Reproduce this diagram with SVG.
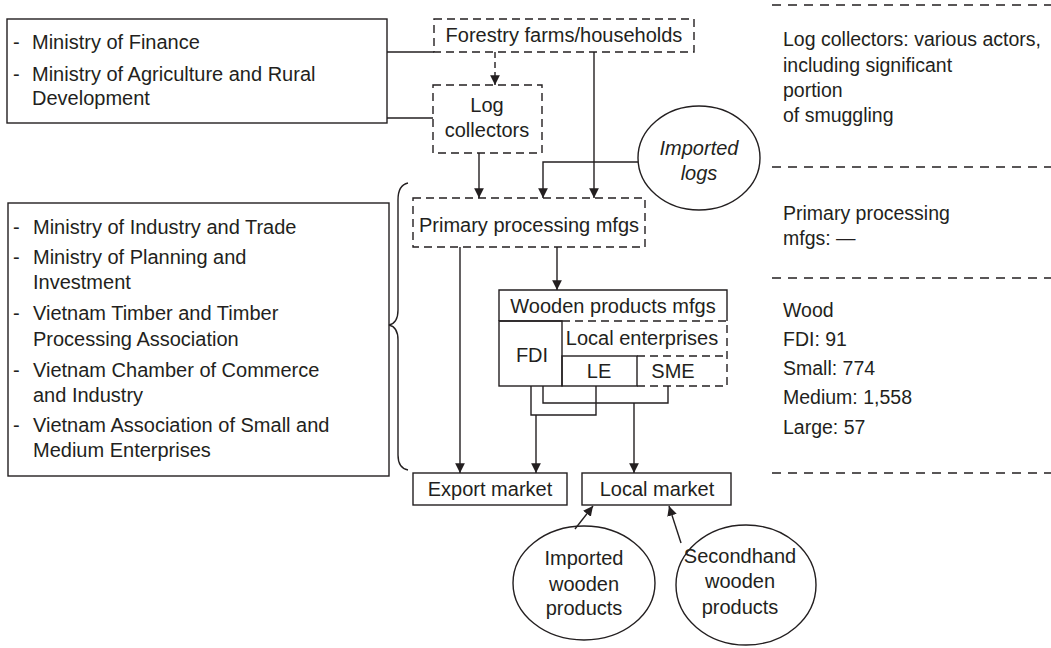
<svg xmlns="http://www.w3.org/2000/svg" width="1051" height="648" viewBox="0 0 1051 648">
<defs>
<style>
.t{font-family:"Liberation Sans",Arial,sans-serif;font-size:20px;fill:#231f20}
.r{font-size:19.5px}
.c{text-anchor:middle}
.i{font-style:italic}
.box{fill:none;stroke:#231f20;stroke-width:1.4}
.dash{fill:none;stroke:#231f20;stroke-width:1.4;stroke-dasharray:8 5}
.sep{fill:none;stroke:#231f20;stroke-width:1.4;stroke-dasharray:9 7}
.ln{fill:none;stroke:#231f20;stroke-width:1.4}
.ar{fill:none;stroke:#231f20;stroke-width:1.4;marker-end:url(#ah)}
</style>
<marker id="ah" viewBox="0 0 10 10" refX="10" refY="5" markerWidth="7" markerHeight="7" markerUnits="strokeWidth" orient="auto">
<path d="M0,0 L10,5 L0,10 z" fill="#231f20"/>
</marker>
</defs>
<rect width="1051" height="648" fill="#ffffff"/>

<g id="ministries-top">
<rect class="box" x="7" y="19" width="380" height="104"/>
<text class="t" x="13" y="49">-</text><text class="t" x="32" y="49">Ministry of Finance</text>
<text class="t" x="13" y="81">-</text><text class="t" x="32" y="81">Ministry of Agriculture and Rural</text>
<text class="t" x="32" y="105">Development</text>
</g>

<g id="ministries-mid">
<rect class="box" x="8" y="203" width="381" height="273"/>
<text class="t" x="13" y="234">-</text><text class="t" x="33" y="234">Ministry of Industry and Trade</text>
<text class="t" x="13" y="264">-</text><text class="t" x="33" y="264">Ministry of Planning and</text>
<text class="t" x="33" y="289">Investment</text>
<text class="t" x="13" y="320">-</text><text class="t" x="33" y="320">Vietnam Timber and Timber</text>
<text class="t" x="33" y="346">Processing Association</text>
<text class="t" x="13" y="377">-</text><text class="t" x="33" y="377">Vietnam Chamber of Commerce</text>
<text class="t" x="33" y="402">and Industry</text>
<text class="t" x="13" y="432">-</text><text class="t" x="33" y="432">Vietnam Association of Small and</text>
<text class="t" x="33" y="457">Medium Enterprises</text>
</g>

<g id="brace">
<path class="ln" d="M408,183 Q398,185 398,200 L398,310 Q398,323 389,325 Q398,327 398,340 L398,455 Q398,468 408,470"/>
</g>

<g id="forestry">
<rect class="dash" x="434" y="19" width="260" height="33"/>
<text class="t c" x="564" y="42">Forestry farms/households</text>
</g>

<g id="log-collectors">
<rect class="dash" x="433" y="85" width="109" height="68"/>
<text class="t c" x="487" y="112">Log</text>
<text class="t c" x="487" y="137">collectors</text>
</g>

<g id="imported-logs">
<ellipse class="box" cx="699" cy="158" rx="61" ry="52"/>
<text class="t c i" x="699" y="155">Imported</text>
<text class="t c i" x="699" y="180">logs</text>
</g>

<g id="primary">
<rect class="dash" x="413" y="198" width="232" height="49"/>
<text class="t c" x="529" y="232">Primary processing mfgs</text>
</g>

<g id="wooden">
<path class="box" d="M499,321 L499,290 L727,290 L727,321"/>
<line class="ln" x1="499" y1="321" x2="562" y2="321"/>
<text class="t c" x="613" y="313">Wooden products mfgs</text>
<rect class="box" x="499" y="321" width="63" height="65"/>
<text class="t c" x="532" y="362">FDI</text>
<path class="dash" d="M562,321 L727,321 L727,386 L637,386"/>
<text class="t c" x="642" y="345">Local enterprises</text>
<rect class="box" x="562" y="356" width="75" height="30"/>
<text class="t c" x="599" y="378">LE</text>
<line class="dash" x1="637" y1="356" x2="727" y2="356"/>
<text class="t c" x="673" y="378">SME</text>
</g>

<g id="export-market">
<rect class="box" x="413" y="473" width="154" height="32"/>
<text class="t c" x="490" y="496">Export market</text>
</g>

<g id="local-market">
<rect class="box" x="582" y="473" width="149" height="32"/>
<text class="t c" x="657" y="496">Local market</text>
</g>

<g id="imported-wooden">
<ellipse class="box" cx="584" cy="583" rx="71" ry="57"/>
<text class="t c" x="584" y="565">Imported</text>
<text class="t c" x="584" y="591">wooden</text>
<text class="t c" x="584" y="615">products</text>
</g>

<g id="secondhand">
<ellipse class="box" cx="746" cy="585" rx="70" ry="60"/>
<text class="t c" x="740" y="563">Secondhand</text>
<text class="t c" x="740" y="588">wooden</text>
<text class="t c" x="740" y="614">products</text>
</g>

<g id="notes">
<line class="sep" x1="772" y1="5" x2="1051" y2="5"/>
<text class="t r" x="783" y="46">Log collectors: various actors,</text>
<text class="t r" x="783" y="72">including significant</text>
<text class="t r" x="783" y="97">portion</text>
<text class="t r" x="783" y="122">of smuggling</text>
<line class="sep" x1="772" y1="167" x2="1051" y2="167"/>
<text class="t r" x="783" y="220">Primary processing</text>
<text class="t r" x="783" y="245">mfgs: —</text>
<line class="sep" x1="772" y1="278" x2="1051" y2="278"/>
<text class="t r" x="783" y="317">Wood</text>
<text class="t r" x="783" y="346">FDI: 91</text>
<text class="t r" x="783" y="375">Small: 774</text>
<text class="t r" x="783" y="404">Medium: 1,558</text>
<text class="t r" x="783" y="434">Large: 57</text>
<line class="sep" x1="772" y1="473" x2="1051" y2="473"/>
</g>

<g id="connectors">
<line class="ln" x1="387" y1="52" x2="434" y2="52"/>
<line class="ln" x1="387" y1="118" x2="433" y2="118"/>
<line class="ar" x1="495" y1="52" x2="495" y2="85" stroke-dasharray="6 4"/>
<line class="ar" x1="479" y1="153" x2="479" y2="198"/>
<line class="ar" x1="594" y1="52" x2="594" y2="198"/>
<path class="ar" d="M638,162 L543,162 L543,198"/>
<line class="ar" x1="460" y1="247" x2="460" y2="473"/>
<line class="ar" x1="557" y1="247" x2="557" y2="290"/>
<path class="ln" d="M531,386 L531,415 L596,415 L596,386"/>
<line class="ar" x1="536" y1="415" x2="536" y2="473"/>
<path class="ln" d="M543,386 L543,403 L668,403 L668,386"/>
<line class="ar" x1="634" y1="403" x2="634" y2="473"/>
<line class="ar" x1="575" y1="529" x2="593" y2="506"/>
<line class="ar" x1="681" y1="543" x2="669" y2="506"/>
</g>
</svg>
